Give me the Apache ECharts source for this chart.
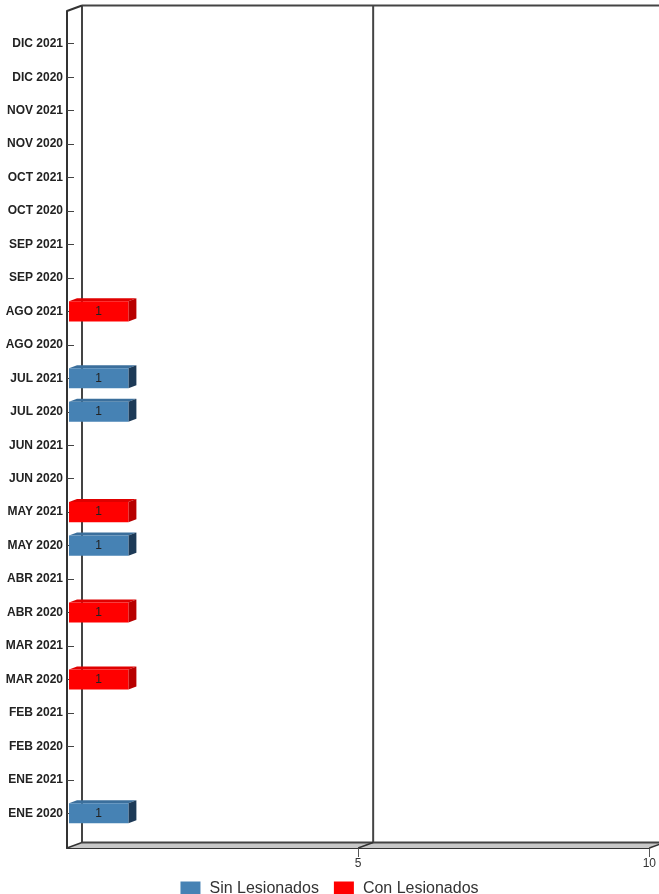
<!DOCTYPE html>
<html>
<head>
<meta charset="utf-8">
<script src="https://cdn.jsdelivr.net/npm/echarts@6/dist/echarts.min.js"></script>
<style>html,body{margin:0;padding:0;background:#fff}#c{width:659px;height:894px}</style>
</head>
<body>
<div id="c"></div>
<script>
// Categories, bottom to top
const categories = ['ENE 2020','ENE 2021','FEB 2020','FEB 2021','MAR 2020','MAR 2021','ABR 2020','ABR 2021','MAY 2020','MAY 2021','JUN 2020','JUN 2021','JUL 2020','JUL 2021','AGO 2020','AGO 2021','SEP 2020','SEP 2021','OCT 2020','OCT 2021','NOV 2020','NOV 2021','DIC 2020','DIC 2021'];
const sinLesionados = [1,0,0,0,0,0,0,0,1,0,0,0,1,1,0,0,0,0,0,0,0,0,0,0];
const conLesionados = [0,0,0,0,1,0,1,0,0,1,0,0,0,0,0,1,0,0,0,0,0,0,0,0];
const seriesNames = ['Sin Lesionados','Con Lesionados'];
const xTicks = [0,5,10];

const palette = [
  {front:'#4682b4', top:'#3b6f9c', side:'#1d3a57'},
  {front:'#ff0000', top:'#e00000', side:'#b80000'}
];

const chart = echarts.init(document.getElementById('c'));

function buildData(vals, prevList) {
  const out = [];
  vals.forEach((v, i) => {
    if (v > 0) {
      let base = 0;
      prevList.forEach(p => base += p[i]);
      out.push([base + v, i, base, v]);
    }
  });
  return out;
}

function makeRender(pal) {
  return function (params, api) {
    const end = api.value(0), cat = api.value(1), base = api.value(2), v = api.value(3);
    const p0 = api.coord([base, cat]);
    const p1 = api.coord([end, cat]);
    const band = api.size([0, 1])[1];
    const h = band * 0.6;
    const dx = 8, dy = 3;
    const x0 = p0[0] + 2, x1 = p1[0] + 3;
    const yT = p0[1] - h / 2, yB = p0[1] + h / 2;
    return {
      type: 'group',
      children: [
        {type: 'polygon', shape: {points: [[x0, yT], [x0 + dx, yT - dy], [x1 + dx, yT - dy], [x1, yT]]}, style: {fill: pal.top}},
        {type: 'polygon', shape: {points: [[x1, yT], [x1 + dx, yT - dy], [x1 + dx, yB - dy], [x1, yB]]}, style: {fill: pal.side}},
        {type: 'rect', shape: {x: x0, y: yT, width: x1 - x0, height: h}, style: {fill: pal.front}},
        {type: 'text', style: {text: String(v), x: (x0 + x1) / 2, y: p0[1], align: 'center', verticalAlign: 'middle', fill: '#222', font: '12px "Liberation Sans", Arial, sans-serif'}}
      ]
    };
  };
}

const dataSin = buildData(sinLesionados, []);
const dataCon = buildData(conLesionados, [sinLesionados]);

const option = {
  animation: false,
  backgroundColor: '#fff',
  grid: [
    {left: 67, right: 8, top: 27, bottom: 64},          // data grid
    {left: 67, right: 8, top: 11, bottom: 46}           // front frame
  ],
  xAxis: [
    {gridIndex: 0, type: 'value', min: 0, max: 10, interval: 5, show: false},
    {gridIndex: 1, type: 'value', min: 0, max: 10, interval: 5,
      axisLine: {show: true, lineStyle: {color: '#333', width: 2}},
      axisTick: {show: true, length: 9, lineStyle: {color: '#555', width: 1}},
      axisLabel: {color: '#333', fontSize: 12, margin: 10, fontFamily: '"Liberation Sans", Arial, sans-serif', showMaxLabel: true, showMinLabel: false},
      splitLine: {show: false}}
  ],
  yAxis: [
    {gridIndex: 0, type: 'category', data: categories,
      axisLine: {show: false},
      axisTick: {show: true, inside: true, length: 7, alignWithLabel: true, lineStyle: {color: '#444'}},
      axisLabel: {color: '#222', fontWeight: 'bold', fontSize: 12, margin: 4, fontFamily: '"Liberation Sans", Arial, sans-serif', interval: 0}},
    {gridIndex: 1, type: 'value', min: 0, max: 1,
      axisLine: {show: true, lineStyle: {color: '#333', width: 2}},
      axisTick: {show: false}, axisLabel: {show: false}, splitLine: {show: false}}
  ],
  legend: {
    top: 876, left: 'center',
    itemWidth: 20, itemHeight: 15, itemGap: 15,
    textStyle: {color: '#333', fontSize: 16, fontFamily: '"Liberation Sans", Arial, sans-serif', padding: [0, 0, 0, 4]},
    data: seriesNames.map(n => ({name: n, icon: 'rect'}))
  },
  series: [
    {name: seriesNames[0], type: 'custom', coordinateSystem: 'cartesian2d', xAxisIndex: 0, yAxisIndex: 0,
      itemStyle: {color: palette[0].front}, renderItem: makeRender(palette[0]), data: dataSin, encode: {x: 0, y: 1}, z: 5},
    {name: seriesNames[1], type: 'custom', coordinateSystem: 'cartesian2d', xAxisIndex: 0, yAxisIndex: 0,
      itemStyle: {color: palette[1].front}, renderItem: makeRender(palette[1]), data: dataCon, encode: {x: 0, y: 1}, z: 5}
  ]
};
chart.setOption(option);

// 3D frame (back wall, floor, diagonals) positioned from the front axes' own scales
const DX = 15, DY = -5.5;
const F = (p) => chart.convertToPixel({gridIndex: 1}, p);
const B = (p) => { const q = F(p); return [q[0] + DX, q[1] + DY]; };
const g = [];
const xmin = xTicks[0], xmax = xTicks[xTicks.length - 1];
const ln = (a, b, w, c) => ({type: 'line', z: 3, shape: {x1: a[0], y1: a[1], x2: b[0], y2: b[1]}, style: {stroke: c || '#333', lineWidth: w}});
g.push({type: 'polygon', z: 1, shape: {points: [F([xmin, 0]), B([xmin, 0]), B([xmax, 0]), F([xmax, 0])]}, style: {fill: '#c8c8c8', stroke: null}});
// back wall: verticals at each tick, top and bottom edges
xTicks.forEach(v => g.push(ln(B([v, 0]), B([v, 1]), 2, '#444')));
g.push(ln(B([xmin, 1]), B([xmax, 1]), 2, '#444'));
g.push(ln(B([xmin, 0]), B([xmax, 0]), 2, '#444'));
// diagonals
g.push(ln(F([xmin, 1]), B([xmin, 1]), 2));
xTicks.forEach(v => g.push(ln(F([v, 0]), B([v, 0]), 1.5)));
chart.setOption({graphic: g});
</script>
</body>
</html>
